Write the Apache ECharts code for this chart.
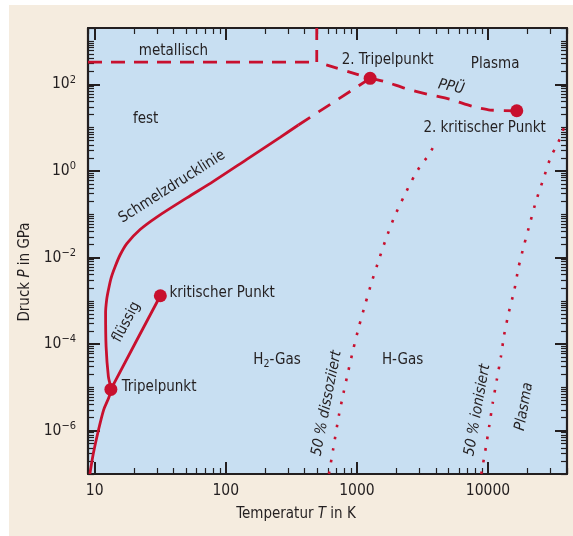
<!DOCTYPE html>
<html>
<head>
<meta charset="utf-8">
<script src="https://cdn.jsdelivr.net/npm/echarts@6/dist/echarts.min.js"></script>
<style>
html,body{margin:0;padding:0;background:#ffffff;}
#bg{position:absolute;left:9px;top:5px;width:564px;height:531px;background:#f5ecdf;}
#chart{position:absolute;left:0;top:0;width:573px;height:536px;}
</style>
</head>
<body>
<div id="bg"></div>
<div id="chart"></div>
<script>
// ---------- axis ranges and ticks ----------
const T_MIN = 8.9, T_MAX = 40000;
const P_MIN = 1e-7, P_MAX = 2000;
const xMajorTicks = [10, 100, 1000, 10000];
const yMajorTicks = [1e-6, 1e-4, 1e-2, 1, 100];
const yOddDecades = [1e-7, 1e-5, 1e-3, 1e-1, 10, 1000];
const minorMultipliers = [2, 3, 4, 5, 6, 7, 8, 9];

// ---------- data (T in K, P in GPa) ----------
const sublimationMelting = [[9.2,1e-7],[9.78,3e-7],[10.7,1.04e-6],[11.7,3e-6],[13.3,9e-6],[12.73,1.77e-5],[12.23,8.71e-5],[12.12,5.23e-4],[12.34,1.04e-3],[12.73,1.77e-3],[13.35,3.36e-3],[14.32,6.13e-3],[15.63,0.01143],[17.59,0.021],[22.22,0.0443],[29.78,0.0861],[50.44,0.239],[80.43,0.575],[144.6,1.853],[259.6,5.97],[357.9,11.48]];
const meltingExtrapolated = [[357.9,11.48],[1261,137.5]];
const liquidGas = [[13.3,9e-6],[20.52,1.09e-4],[31.7,1.31e-3]];
const metallicHorizontal = [[8.9,327],[494,327]];
const metallicBoundary = [[494,2000],[494,327],[1261,137.5]];
const ppuLine = [[1261,137.5],[1641,115],[2330,80.7],[3414,59.7],[5135,45.0],[7732,30.4],[10365,25.5],[16560,24.5]];
const dissociation50 = [[612,1e-7],[658,3.64e-7],[728,2.22e-6],[789,7.31e-6],[861,2.43e-5],[940,7.83e-5],[1039,2.62e-4],[1160,8.57e-4],[1299,2.76e-3],[1469,8.75e-3],[1670,0.0277],[1932,0.0874],[2290,0.263],[2744,0.775],[3070,1.35],[3500,2.25],[3831,3.62]];
const ionisation50 = [[8880,1e-7],[9614,4.05e-7],[10242,1.36e-6],[10875,4.53e-6],[11664,1.51e-5],[12513,4.96e-5],[13261,1.62e-4],[14400,5.42e-4],[15886,1.80e-3],[17100,6.03e-3],[18836,0.0195],[20930,0.0637],[23260,0.205],[26430,0.65],[30100,2.13],[33040,3.62],[36070,6.4],[38220,10.9]];
const specialPoints = [[13.3,9e-6],[31.7,1.31e-3],[1261,137.5],[16560,24.5]];

// ---------- annotation texts and anchors (data coords) ----------
const annoTexts = ['metallisch','fest','Schmelzdrucklinie','2. Tripelpunkt','Plasma','PPÜ','2. kritischer Punkt','kritischer Punkt','Tripelpunkt','flüssig','H{sub|2}-Gas','H-Gas','50 % dissoziiert','50 % ionisiert','Plasma'];
const annoAnchors = [[39.9,597],[24.5,15.8],[38.9,0.43],[1714,364],[11320,294],[5224,86.5],[9419,9.53],[93.8,1.49e-3],[31.0,9.96e-6],[17.5,3.24e-4],[246,4.3e-5],[2229,4.3e-5],[589,4.3e-6],[8318,3.0e-6],[18840,3.58e-6]];
const annoRotate = [0,0,32.5,0,0,-12,0,0,0,62,0,0,79,80,80];
const annoItalic = [0,0,0,0,0,1,0,0,0,0,0,0,1,1,1];

// ---------- styling ----------
const RED = '#c8102e';
const DARK = '#231f20';
const FONT = '"Liberation Sans Narrow", "DejaVu Sans Condensed", "Roboto", sans-serif';
const ANNO_SIZE = 15;

function minorTicks(lo, hi, decadesLo, decadesHi, extra) {
  const out = [];
  for (let d = decadesLo; d <= decadesHi; d++) {
    for (const m of minorMultipliers) {
      const v = m * Math.pow(10, d);
      if (v >= lo && v <= hi) out.push(v);
    }
  }
  return out.concat(extra || []);
}
const xMinorTicks = minorTicks(T_MIN, T_MAX, 0, 4);
const yMinorTicks = minorTicks(P_MIN, P_MAX, -7, 3, yOddDecades);

function powLabel(v) {
  const e = Math.round(Math.log10(v));
  return '{b|10}{s|' + (e < 0 ? '\u2212' + (-e) : String(e)) + '}';
}

function xAxisDef(pos, ticks, len, width, withLine, withLabels) {
  const a = {
    type: 'log', logBase: 10, min: T_MIN, max: T_MAX, position: pos, gridIndex: 0,
    axisLine: { show: withLine, onZero: false, lineStyle: { color: DARK, width: 2.2 } },
    axisTick: { show: true, inside: true, length: len, customValues: ticks, lineStyle: { color: DARK, width: width } },
    axisLabel: { show: withLabels },
    splitLine: { show: false }, minorTick: { show: false }
  };
  if (withLabels) {
    a.axisLabel = { show: true, customValues: xMajorTicks, margin: 9, color: DARK, fontSize: 15.5, fontFamily: FONT,
      formatter: v => String(Math.round(v)) };
    a.name = 'Temperatur {i|T} in K';
    a.nameLocation = 'middle';
    a.nameGap = 33;
    a.nameTextStyle = { color: DARK, fontSize: 15, fontFamily: FONT, padding: [0, 63, 0, 0],
      rich: { i: { fontStyle: 'italic', fontSize: 15, fontFamily: FONT, color: DARK } } };
  }
  return a;
}
function yAxisDef(pos, ticks, len, width, withLine, withLabels) {
  const a = {
    type: 'log', logBase: 10, min: P_MIN, max: P_MAX, position: pos, gridIndex: 0,
    axisLine: { show: withLine, onZero: false, lineStyle: { color: DARK, width: 2.2 } },
    axisTick: { show: true, inside: true, length: len, customValues: ticks, lineStyle: { color: DARK, width: width } },
    axisLabel: { show: withLabels },
    splitLine: { show: false }, minorTick: { show: false }
  };
  if (withLabels) {
    a.axisLabel = { show: true, customValues: yMajorTicks, margin: 12, color: DARK, fontFamily: FONT,
      formatter: powLabel,
      rich: { b: { fontSize: 15.5, fontFamily: FONT, color: DARK },
              s: { fontSize: 11, fontFamily: FONT, color: DARK, padding: [0, 0, 9, 0] } } };
    a.name = 'Druck {i|P} in GPa';
    a.nameLocation = 'middle';
    a.nameGap = 47;
    a.nameTextStyle = { color: DARK, fontSize: 15, fontFamily: FONT, padding: [0, 42, 0, 0],
      rich: { i: { fontStyle: 'italic', fontSize: 15, fontFamily: FONT, color: DARK } } };
  }
  return a;
}

function lineSeries(data, type, width, smooth) {
  return {
    type: 'line', data: data, xAxisIndex: 0, yAxisIndex: 0, showSymbol: false, symbol: 'none',
    smooth: smooth, silent: true, z: 3, clip: true,
    lineStyle: { color: RED, width: width, type: type, cap: 'butt' }
  };
}

const annoData = annoTexts.map((t, i) => ({
  value: annoAnchors[i],
  label: {
    show: true, position: 'inside', formatter: t, rotate: annoRotate[i],
    fontStyle: annoItalic[i] ? 'italic' : 'normal',
    fontSize: ANNO_SIZE, fontFamily: FONT, color: DARK, opacity: 1,
    textBorderWidth: 0,
    rich: { sub: { fontSize: 10.5, fontFamily: FONT, color: DARK, padding: [8, 0, 0, 0] } }
  }
}));

const chart = echarts.init(document.getElementById('chart'), null, { renderer: 'canvas' });
chart.setOption({
  backgroundColor: 'transparent',
  animation: false,
  textStyle: { fontFamily: FONT },
  grid: { left: 88, top: 28, width: 479, height: 446, show: true, backgroundColor: '#c8dff2', borderWidth: 0 },
  xAxis: [
    xAxisDef('bottom', xMajorTicks, 12, 2, true, true),
    xAxisDef('bottom', xMinorTicks, 6, 1.2, false, false),
    xAxisDef('top', xMajorTicks, 12, 2, true, false),
    xAxisDef('top', xMinorTicks, 6, 1.2, false, false)
  ],
  yAxis: [
    yAxisDef('left', yMajorTicks, 12, 2, true, true),
    yAxisDef('left', yMinorTicks, 6, 1.2, false, false),
    yAxisDef('right', yMajorTicks, 12, 2, true, false),
    yAxisDef('right', yMinorTicks, 6, 1.2, false, false)
  ],
  series: [
    lineSeries(sublimationMelting, 'solid', 2.8, 0.3),
    lineSeries(liquidGas, 'solid', 2.8, false),
    lineSeries(meltingExtrapolated, [14, 10], 2.8, false),
    lineSeries(metallicHorizontal, [14, 9], 2.8, false),
    lineSeries(metallicBoundary, [12, 10], 2.8, false),
    lineSeries(ppuLine, [13, 10], 2.8, 0.2),
    lineSeries(dissociation50, [2.6, 9.2], 2.6, 0.2),
    lineSeries(ionisation50, [2.6, 9.2], 2.6, 0.2),
    { type: 'scatter', data: specialPoints, symbol: 'circle', symbolSize: 13, silent: true, z: 5,
      itemStyle: { color: RED, opacity: 1 } },
    { type: 'scatter', data: annoData, symbol: 'circle', symbolSize: 1, silent: true, z: 6,
      itemStyle: { color: 'rgba(0,0,0,0)', opacity: 1 } }
  ]
});
</script>
</body>
</html>
